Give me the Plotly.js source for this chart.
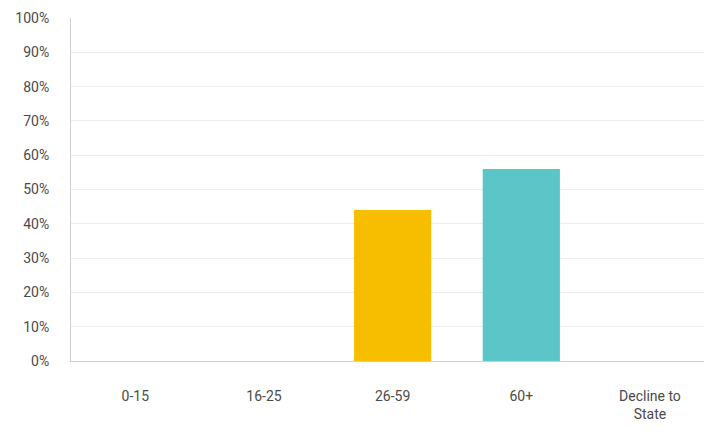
<!DOCTYPE html>
<html>
<head>
<meta charset="utf-8">
<script src="https://cdn.plot.ly/plotly-3.0.1.min.js"></script>
<style>html,body{margin:0;padding:0;background:#fff;}#chart{width:704px;height:432px;}</style>
</head>
<body>
<div id="chart"></div>
<script>
var categories = ["0-15", "16-25", "26-59", "60+", "Decline to<br>State"];
var values = [0, 0, 0.44, 0.56, 0];
var barColors = ["#5BC5C8", "#5BC5C8", "#F7BE00", "#5BC5C8", "#5BC5C8"];
var yTickVals = [0, 0.1, 0.2, 0.3, 0.4, 0.5, 0.6, 0.7, 0.8, 0.9, 1.0];
var yTickText = ["0%", "10%", "20%", "30%", "40%", "50%", "60%", "70%", "80%", "90%", "100%"];

var trace = {
  type: "bar",
  x: categories,
  y: values,
  width: 0.6,
  marker: {color: barColors},
  hoverinfo: "none"
};

var tf = {family: "Roboto, sans-serif", size: 14, color: "#4a4a4a"};

var layout = {
  width: 704, height: 432,
  margin: {l: 71, r: 0, t: 18, b: 71},
  paper_bgcolor: "#fff", plot_bgcolor: "#fff",
  showlegend: false,
  font: tf,
  xaxis: {
    type: "category",
    range: [-0.5, 4.42],
    showgrid: false,
    showline: true, linecolor: "#cfcfcf", linewidth: 1,
    ticks: "", ticklabelstandoff: 22,
    tickfont: tf,
    fixedrange: true
  },
  yaxis: {
    range: [0, 1.0],
    tickvals: yTickVals, ticktext: yTickText,
    showgrid: true, gridcolor: "#ececec", gridwidth: 1,
    showline: true, linecolor: "#cfcfcf", linewidth: 1,
    zeroline: false,
    ticks: "", ticklabelstandoff: 18,
    tickfont: tf,
    fixedrange: true
  }
};

Plotly.newPlot("chart", [trace], layout, {displayModeBar: false, staticPlot: true});
</script>
</body>
</html>
